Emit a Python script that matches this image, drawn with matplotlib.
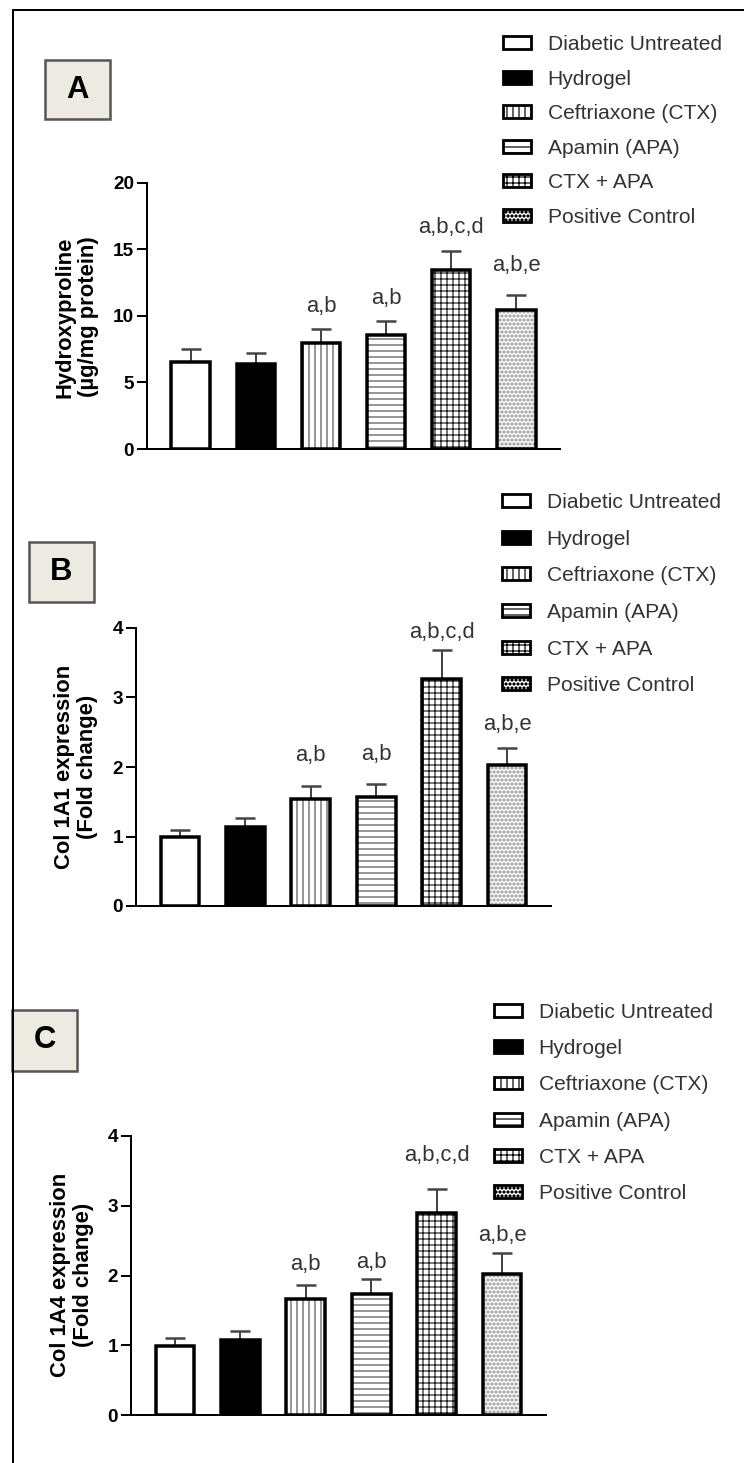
import matplotlib
matplotlib.use('Agg')
import matplotlib.pyplot as plt
from matplotlib.patches import Patch, Rectangle
from matplotlib.lines import Line2D
import numpy as np

plt.rcParams['font.family'] = ['Liberation Sans', 'DejaVu Sans']
plt.rcParams['hatch.linewidth'] = 1.2

W, H = 744, 1463
DPI = 72

# ---------------- data ----------------
groups = ["Diabetic Untreated", "Hydrogel", "Ceftriaxone (CTX)",
          "Apamin (APA)", "CTX + APA", "Positive Control"]
hyp_mean = [6.56, 6.37, 8.0, 8.6, 13.45, 10.45]
hyp_err = [0.94, 0.87, 1.0, 1.0, 1.45, 1.15]
col1a1_mean = [0.99, 1.13, 1.54, 1.575, 3.27, 2.03]
col1a1_err = [0.11, 0.13, 0.18, 0.185, 0.42, 0.24]
col1a4_mean = [0.99, 1.08, 1.66, 1.73, 2.90, 2.02]
col1a4_err = [0.12, 0.12, 0.20, 0.215, 0.34, 0.30]
sig_labels = ["", "", "a,b", "a,b", "a,b,c,d", "a,b,e"]
hyp_ticks = [0, 5, 10, 15, 20]
fold_ticks = [0, 1, 2, 3, 4]

# ---------------- styles ----------------
face_colors = ['white', 'black', 'white', 'white', 'white', 'white']
hatches = [None, None, '||', '--', '++', 'ooo']
hatch_colors = ['black', 'black', '#555555', '#555555', '#222222', '#a8a8a8']

fig = plt.figure(figsize=(W / DPI, H / DPI), dpi=DPI)


def fx(px):
    return px / W


def fy(py):
    return 1 - py / H


def make_axes(left, right, top, bottom):
    return fig.add_axes([fx(left), fy(bottom), (right - left) / W, (bottom - top) / H])


def draw_panel(ax, means, errs, ticks, label_offsets):
    x = np.arange(len(means))
    width = 0.59
    ax.errorbar(x, means, yerr=[np.zeros(len(means)), errs], fmt='none',
                ecolor='#444444', elinewidth=2, capsize=10, capthick=2.5, zorder=1)
    for i in range(len(means)):
        ax.bar(x[i], means[i], width=width, color=face_colors[i],
               edgecolor=hatch_colors[i], hatch=hatches[i], linewidth=0, zorder=2)
    ax.bar(x, means, width=width, fill=False, edgecolor='black', linewidth=3.5, zorder=3)
    for i, lab in enumerate(sig_labels):
        if lab:
            ax.annotate(lab, xy=(x[i], means[i] + errs[i]), xytext=(0, label_offsets[i]),
                        textcoords='offset points', ha='center', va='baseline',
                        fontsize=22, color='#333333')
    ax.set_xlim(-0.67, 5.67)
    ax.set_ylim(0, ticks[-1])
    ax.set_yticks(ticks)
    ax.set_yticklabels([str(t) for t in ticks], fontweight='bold', fontsize=19)
    ax.set_xticks([])
    for s in ['top', 'right']:
        ax.spines[s].set_visible(False)
    for s in ['left', 'bottom']:
        ax.spines[s].set_linewidth(2)
    ax.tick_params(axis='y', direction='out', length=10, width=2, pad=3)
    ax.patch.set_alpha(0)


def legend_at(left, top, spacing):
    handles = [Patch(facecolor=face_colors[i], edgecolor='black', hatch=hatches[i],
                     linewidth=2.8) for i in range(len(groups))]
    fig.legend(handles, groups, loc='upper left', bbox_to_anchor=(fx(left), fy(top)),
               frameon=False, fontsize=21, handlelength=1.33, handleheight=0.57,
               handletextpad=0.8, labelspacing=spacing, borderpad=0, borderaxespad=0,
               labelcolor='#333333')


def label_box(x0, y0, x1, y1, letter):
    fig.add_artist(Rectangle((fx(x0), fy(y1)), (x1 - x0) / W, (y1 - y0) / H,
                             transform=fig.transFigure, facecolor='#EDEBE1',
                             edgecolor='#555555', linewidth=2.5))
    fig.text(fx((x0 + x1) / 2), fy((y0 + y1) / 2), letter, ha='center', va='center',
             fontsize=31, fontweight='bold', color='black')


# figure frame (left and top)
fig.add_artist(Line2D([fx(13), fx(13)], [0, fy(10)], color='black', lw=2,
                      transform=fig.transFigure))
fig.add_artist(Line2D([fx(13), 1], [fy(10), fy(10)], color='black', lw=2,
                      transform=fig.transFigure))

# Panel A
axA = make_axes(147, 560, 183, 449)
draw_panel(axA, hyp_mean, hyp_err, hyp_ticks, [0, 0, 17, 17, 18, 24])
fig.text(fx(77), fy(317), "Hydroxyproline\n(\u00b5g/mg protein)", rotation=90,
         ha='center', va='center', fontsize=22, fontweight='bold', linespacing=1.15)
legend_at(503, 35, 0.74)
label_box(45, 60, 110, 119, 'A')

# Panel B
axB = make_axes(136, 551, 628, 906)
draw_panel(axB, col1a1_mean, col1a1_err, fold_ticks, [0, 0, 25, 24, 12, 18])
fig.text(fx(76), fy(767), "Col 1A1 expression\n(Fold change)", rotation=90,
         ha='center', va='center', fontsize=22, fontweight='bold', linespacing=1.15)
legend_at(502, 493, 0.84)
label_box(29, 542, 94, 602, 'B')

# Panel C
axC = make_axes(131, 546, 1136, 1415)
draw_panel(axC, col1a4_mean, col1a4_err, fold_ticks, [0, 0, 15, 11, 28, 12])
fig.text(fx(72), fy(1275), "Col 1A4 expression\n(Fold change)", rotation=90,
         ha='center', va='center', fontsize=22, fontweight='bold', linespacing=1.15)
legend_at(494, 1003, 0.82)
label_box(12, 1010, 77, 1071, 'C')

fig.savefig('out.png', dpi=DPI, facecolor='white')
